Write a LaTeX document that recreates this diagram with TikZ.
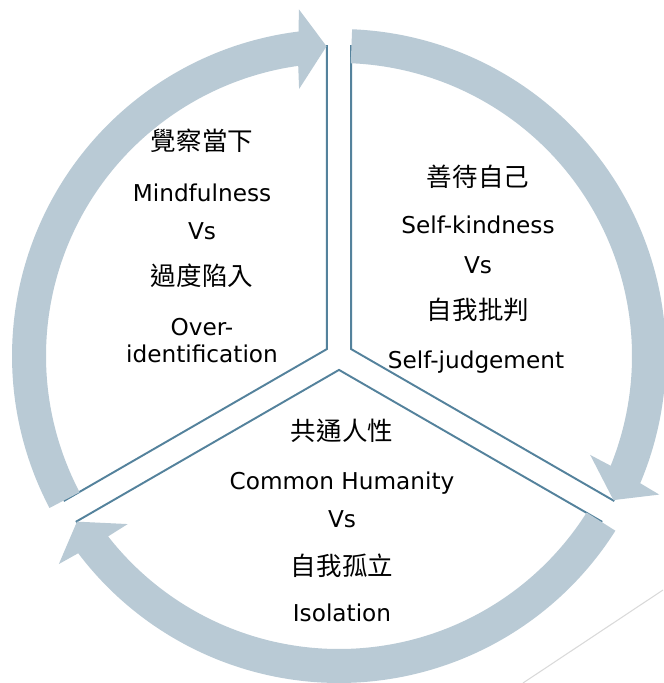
\documentclass[tikz,border=0pt]{standalone}
\usepackage{fontspec}
\setmainfont{DejaVu Sans}
\newfontfamily\cjk{Noto Sans CJK TC}[Scale=1.1]
\usetikzlibrary{calc}
\definecolor{ring}{RGB}{185,202,213}
\definecolor{edge}{RGB}{84,130,156}
\definecolor{faint}{RGB}{217,217,217}

\begin{document}
\begin{tikzpicture}[x=0.02cm,y=0.02cm,
        every node/.style={font=\fontsize{13.2}{16}\selectfont, inner sep=0pt, anchor=base},
        zh/.style={font=\fontsize{13.2}{16}\selectfont\cjk},
        wedge/.style={draw=edge, line width=1.1pt, fill=white, line join=miter},
        cyclearrow/.style={fill=ring}]
    \useasboundingbox (0,0) rectangle (663,683);
    \begin{scope}[shift={(339,327)}]
        % three sectors, each pulled away from the middle
        \foreach \a/\n in {150/left, 30/right, 270/bottom}
            \draw[wedge] (\a:13.9) coordinate (\n) -- ++(\a-60:303)
                arc[start angle=\a-60, end angle=\a+60, radius=303] -- cycle;
        % the ring of arrows, one per sector
        \foreach \r in {0,120,240}
            \fill[cyclearrow, rotate=-\r] (87.7:327) arc[start angle=87.7, end angle=-22.9, radius=327]
                -- (-23.4:349) -- (-27.7:310) -- (-21.5:270) -- (-22.0:293)
                arc[start angle=-22.0, end angle=87.7, radius=293] -- cycle;
    \end{scope}
    \draw[faint, line width=0.6pt] (663,93) -- (523,0);

    % left sector
    \node[zh] (mindzh) at (202,532) {覺察當下};
    \node (mind) at (202,481) {Mindfulness};
    \node (vsa) at (202,443) {Vs};
    \node[zh] (overzh) at (202,397) {過度陷入};
    \node (over) at (202,347) {Over-};
    \node (ident) at (202,320) {identification};
    % right sector
    \node[zh] (kindzh) at (478,496) {善待自己};
    \node (kind) at (478,449) {Self-kindness};
    \node (vsb) at (478,409) {Vs};
    \node[zh] (judgezh) at (478,363) {自我批判};
    \node (judge) at (476,314) {Self-judgement};
    % bottom sector
    \node[zh] (humzh) at (342,242) {共通人性};
    \node (hum) at (342,193) {Common Humanity};
    \node (vsc) at (342,155) {Vs};
    \node[zh] (isozh) at (342,107) {自我孤立};
    \node (iso) at (342,61) {Isolation};
\end{tikzpicture}
\end{document}
